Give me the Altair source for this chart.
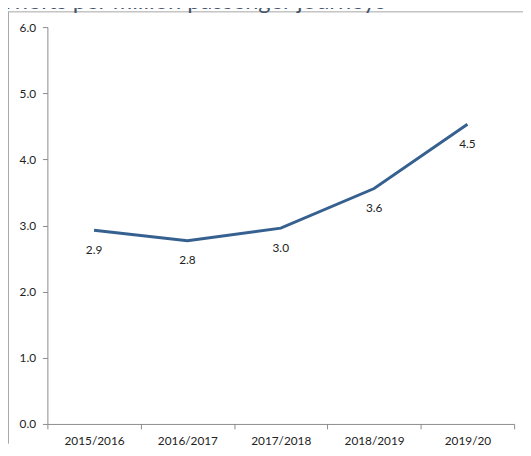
import altair as alt
import pandas as pd

years = ["2015/2016", "2016/2017", "2017/2018", "2018/2019", "2019/20"]
thefts = [2.93, 2.77, 2.96, 3.56, 4.53]
y_ticks = [0, 1, 2, 3, 4, 5, 6]
title_text = "Thefts per million passenger journeys"

df = pd.DataFrame({"year": years, "value": thefts})

W, H = 474, 403
FONT = "Lato"
AXIS_GREY = "#8a8a8a"
LINE_BLUE = "#36608f"
TEXT = "#222222"

x_enc = alt.X(
    "year:N",
    sort=years,
    title=None,
    bandPosition=0.5,
    scale=alt.Scale(type="band", paddingInner=0, paddingOuter=0),
    axis=alt.Axis(
        labelAngle=0,
        tickBand="extent",
        tickSize=5,
        tickColor=AXIS_GREY,
        domainColor=AXIS_GREY,
        labelPadding=7,
        labelFont=FONT,
        labelFontSize=12,
        labelFontWeight=400,
        labelColor=TEXT,
        grid=False,
    ),
)
y_enc = alt.Y(
    "value:Q",
    title=None,
    scale=alt.Scale(domain=[0, 6], nice=False),
    axis=alt.Axis(
        values=y_ticks,
        format=".1f",
        grid=False,
        tickSize=5,
        tickColor=AXIS_GREY,
        domainColor=AXIS_GREY,
        labelPadding=7,
        labelFont=FONT,
        labelFontSize=12,
        labelFontWeight=400,
        labelColor=TEXT,
    ),
)

base = alt.Chart(df)

line = base.mark_line(color=LINE_BLUE, strokeWidth=3).encode(x=x_enc, y=y_enc)

labels = base.mark_text(
    dy=20, font=FONT, fontSize=12, fontWeight=400, color=TEXT,
    align="center", baseline="middle"
).encode(
    x=alt.X("year:N", sort=years, bandPosition=0.5),
    y="value:Q",
    text=alt.Text("value:Q", format=".1f"),
)

frame = pd.DataFrame({"a": [0]})
left_border = alt.Chart(frame).mark_rule(color="#a6a6a6", strokeWidth=1).encode(
    x=alt.value(-39.5), y=alt.value(-15.5), y2=alt.value(H + 20)
)
top_border = alt.Chart(frame).mark_rule(color="#a6a6a6", strokeWidth=1).encode(
    x=alt.value(-40), x2=alt.value(W + 9), y=alt.value(-15.5)
)
title = alt.Chart(frame).mark_text(
    align="left", baseline="alphabetic", font=FONT, fontSize=24, color="#44546a"
).encode(x=alt.value(-47), y=alt.value(-18), text=alt.value(title_text))

chart = (
    alt.layer(left_border, top_border, title, line, labels)
    .properties(
        width=W,
        height=H,
        autosize=alt.AutoSizeParams(type="none"),
        padding={"left": 40, "top": 16, "right": 9, "bottom": 20},
        background="white",
    )
    .configure_view(stroke=None)
)

chart.save("out.html", embed_options={"renderer": "svg", "actions": False})
